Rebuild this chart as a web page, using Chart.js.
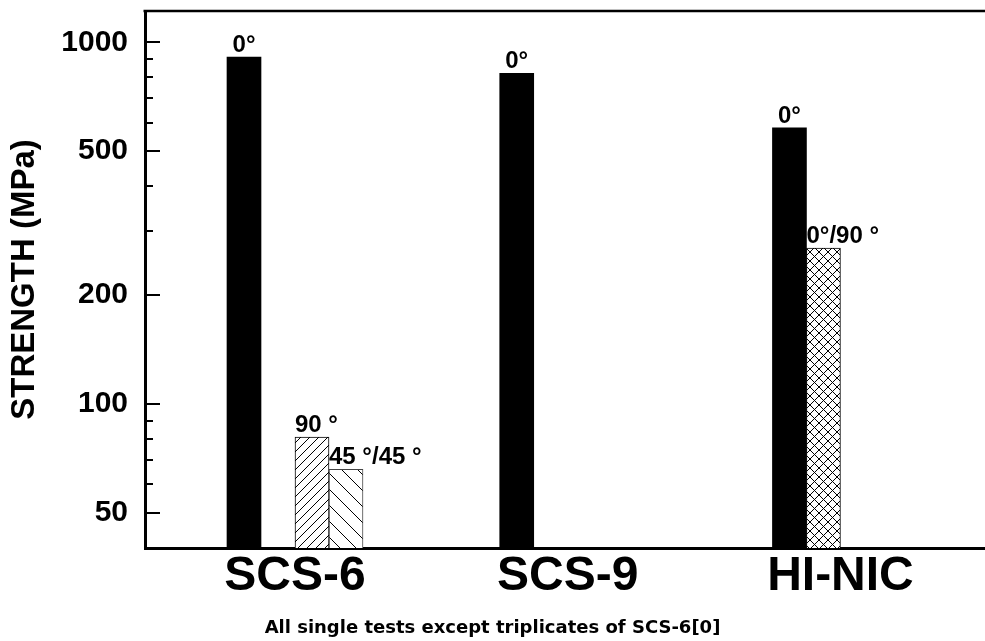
<!DOCTYPE html>
<html>
<head>
<meta charset="utf-8">
<title>Strength by fiber</title>
<script src="https://cdn.jsdelivr.net/npm/chart.js@4.4.1/dist/chart.umd.min.js"></script>
<style>
  html, body { margin: 0; padding: 0; background: #fff; }
  #chart { display: block; }
</style>
</head>
<body>
<canvas id="chart" width="985" height="641"></canvas>
<script>
const categories = ['SCS-6', 'SCS-9', 'HI-NIC'];
const strength0 = [910, 820, 580];
const strength0_90 = [null, null, 270];
const strength90 = [81, null, null];
const strength45 = [66, null, null];
const yTicks = [50, 60, 70, 80, 90, 100, 200, 300, 400, 500, 600, 700, 800, 900, 1000];
const yMajor = [50, 100, 200, 500, 1000];
const caption = 'All single tests except triplicates of SCS-6[0]';

Chart.defaults.font.family = '"Liberation Sans", Arial, Helvetica, sans-serif';
Chart.defaults.color = '#000';

function hatch(size, dirs, width) {
  const c = document.createElement('canvas');
  c.width = size;
  c.height = size;
  const g = c.getContext('2d');
  g.fillStyle = '#fff';
  g.fillRect(0, 0, size, size);
  g.strokeStyle = '#000';
  g.lineWidth = width;
  g.beginPath();
  for (const k of [-size, 0, size]) {
    if (dirs.includes('/')) { g.moveTo(k, size); g.lineTo(k + size, 0); }
    if (dirs.includes('\\')) { g.moveTo(k, 0); g.lineTo(k + size, size); }
  }
  g.stroke();
  return g.createPattern(c, 'repeat');
}

function toPoints(values) {
  return values.map((v, i) => ({ x: i, y: v }));
}

// inward tick marks on the y axis and the top frame line
const frameTicks = {
  id: 'frameTicks',
  afterDraw(chart) {
    const { ctx, chartArea: a, scales: { y } } = chart;
    ctx.save();
    ctx.strokeStyle = '#000';
    ctx.lineWidth = 2.5;
    ctx.beginPath();
    ctx.moveTo(a.left - 1.5, a.top);
    ctx.lineTo(a.right, a.top);
    ctx.stroke();
    ctx.lineWidth = 2;
    yTicks.forEach(v => {
      const py = Math.round(y.getPixelForValue(v));
      const len = yMajor.includes(v) ? 15 : 8;
      ctx.beginPath();
      ctx.moveTo(a.left, py);
      ctx.lineTo(a.left + len, py);
      ctx.stroke();
    });
    ctx.restore();
  }
};

// orientation labels above the bars
const barLabels = {
  id: 'barLabels',
  afterDatasetsDraw(chart) {
    const { ctx } = chart;
    ctx.save();
    ctx.font = 'bold 24px "Liberation Sans", Arial, sans-serif';
    ctx.fillStyle = '#000';
    ctx.textAlign = 'left';
    ctx.textBaseline = 'alphabetic';
    chart.data.datasets.forEach((ds, di) => {
      const meta = chart.getDatasetMeta(di);
      meta.data.forEach((bar, i) => {
        if (ds.data[i].y == null) return;
        const w = ctx.measureText(ds.label).width;
        const left = bar.x - bar.width / 2;
        const x = w < bar.width ? bar.x - w / 2 : left;
        ctx.fillText(ds.label, x, bar.y - 5);
      });
    });
    ctx.restore();
  }
};

new Chart(document.getElementById('chart'), {
  type: 'bar',
  data: {
    datasets: [
      { label: '0°', data: toPoints(strength0), backgroundColor: '#000', borderWidth: 0 },
      { label: '0°/90 °', data: toPoints(strength0_90), backgroundColor: hatch(9, ['/', '\\'], 1), borderColor: '#000', borderWidth: 1 },
      { label: '90 °', data: toPoints(strength90), backgroundColor: hatch(9, ['/'], 1), borderColor: '#000', borderWidth: 1 },
      { label: '45 °/45 °', data: toPoints(strength45), backgroundColor: hatch(16, ['\\'], 1), borderColor: '#444', borderWidth: 1 }
    ]
  },
  options: {
    responsive: false,
    animation: false,
    barThickness: 34,
    layout: { padding: { top: 11, left: 0, right: 0, bottom: 0 } },
    plugins: {
      legend: { display: false },
      tooltip: { enabled: false },
      title: {
        display: true,
        position: 'bottom',
        text: caption,
        color: '#000',
        font: { family: '"DejaVu Sans", sans-serif', size: 18, weight: 'bold' },
        padding: { top: 4, bottom: 2 }
      }
    },
    scales: {
      x: {
        type: 'linear',
        min: -0.55,
        max: 2.53,
        offset: false,
        afterBuildTicks(scale) {
          scale.ticks = categories.map((c, i) => ({ value: i }));
        },
        afterFit(scale) {
          scale.height = 65.4;
          scale.paddingLeft = 0;
          scale.paddingRight = 0;
        },
        grid: { display: false, drawTicks: false },
        border: { display: true, color: '#000', width: 3 },
        ticks: {
          autoSkip: false,
          maxRotation: 0,
          padding: 5,
          color: '#000',
          font: { size: 48, weight: 'bold', lineHeight: 1 },
          callback: (v, i) => categories[i]
        }
      },
      y: {
        type: 'logarithmic',
        min: 40,
        max: 1220,
        afterBuildTicks(scale) {
          scale.ticks = yTicks.map(v => ({ value: v, major: yMajor.includes(v) }));
        },
        afterFit(scale) {
          scale.width = 145;
          scale.paddingTop = 0;
          scale.paddingBottom = 0;
        },
        grid: { display: false, drawTicks: false },
        border: { display: true, color: '#000', width: 3 },
        ticks: {
          autoSkip: false,
          padding: 17,
          color: '#000',
          font: { size: 30, weight: 'bold' },
          callback: v => yMajor.includes(v) ? String(v) : ''
        },
        title: {
          display: true,
          text: 'STRENGTH (MPa)',
          color: '#000',
          font: { size: 33, weight: 'bold' },
          padding: { top: 5, bottom: 0 }
        }
      }
    }
  },
  plugins: [frameTicks, barLabels]
});
</script>
</body>
</html>
